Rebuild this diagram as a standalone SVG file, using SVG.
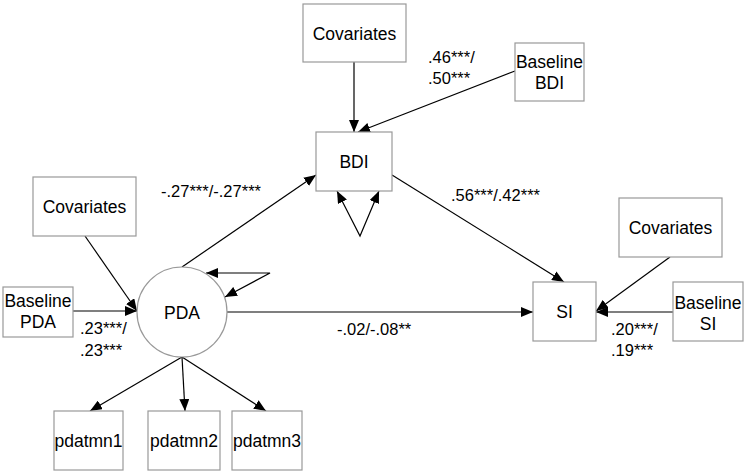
<svg xmlns="http://www.w3.org/2000/svg" width="747" height="475" viewBox="0 0 747 475">
<style>
.box{fill:#fff;stroke:#999;stroke-width:1.2}
.t{font-family:"Liberation Sans",Arial,sans-serif;font-size:17.5px;fill:#000;text-anchor:middle}
.l{font-family:"Liberation Sans",Arial,sans-serif;font-size:16.5px;fill:#000}
.c{stroke:#000;stroke-width:1.2;fill:none}
</style>
<defs>
<marker id="a" viewBox="0 0 12 10" refX="12" refY="5" markerWidth="12" markerHeight="10" markerUnits="userSpaceOnUse" orient="auto-start-reverse">
<path d="M0,0 L12,5 L0,10 z" fill="#000"/>
</marker>
</defs>
<rect width="747" height="475" fill="#fff"/>
<g id="connectors">
<line class="c" x1="354" y1="62" x2="354" y2="132" marker-end="url(#a)"/>
<line class="c" x1="515" y1="71" x2="358" y2="132" marker-end="url(#a)"/>
<line class="c" x1="182" y1="267" x2="316" y2="175" marker-end="url(#a)"/>
<line class="c" x1="392" y1="175" x2="564" y2="282" marker-end="url(#a)"/>
<polyline class="c" points="337,191 360,236 379,191" marker-start="url(#a)" marker-end="url(#a)"/>
<line class="c" x1="85" y1="236" x2="137" y2="311" marker-end="url(#a)"/>
<line class="c" x1="73" y1="311" x2="137" y2="311" marker-end="url(#a)"/>
<polyline class="c" points="206,273 270,273 225,297" marker-start="url(#a)" marker-end="url(#a)"/>
<line class="c" x1="227" y1="312" x2="533" y2="312" marker-end="url(#a)"/>
<line class="c" x1="670" y1="257" x2="596" y2="311" marker-end="url(#a)"/>
<line class="c" x1="673" y1="312" x2="596" y2="312" marker-end="url(#a)"/>
<line class="c" x1="182" y1="357" x2="90" y2="411" marker-end="url(#a)"/>
<line class="c" x1="182" y1="357" x2="185" y2="411" marker-end="url(#a)"/>
<line class="c" x1="182" y1="357" x2="266" y2="411" marker-end="url(#a)"/>
</g>
<g id="labels">
<text class="l" x="428" y="63">.46***/</text>
<text class="l" x="428" y="84">.50***</text>
<text class="l" x="161" y="197">-.27***/-.27***</text>
<text class="l" x="451" y="201">.56***/.42***</text>
<text class="l" x="80" y="334">.23***/</text>
<text class="l" x="80" y="356">.23***</text>
<text class="l" x="337" y="335">-.02/-.08**</text>
<text class="l" x="611" y="335">.20***/</text>
<text class="l" x="611" y="356">.19***</text>
</g>
<g id="cov-bdi"><rect class="box" x="303" y="4" width="103" height="58"/><text class="t" x="354.5" y="40">Covariates</text></g>
<g id="base-bdi"><rect class="box" x="515" y="43" width="69" height="58"/><text class="t" x="549.5" y="68">Baseline</text><text class="t" x="549.5" y="89">BDI</text></g>
<g id="bdi"><rect class="box" x="316" y="132" width="76" height="59"/><text class="t" x="354" y="168">BDI</text></g>
<g id="cov-pda"><rect class="box" x="33" y="177" width="103" height="59"/><text class="t" x="84.5" y="213">Covariates</text></g>
<g id="base-pda"><rect class="box" x="3" y="287" width="70" height="50"/><text class="t" x="38" y="307">Baseline</text><text class="t" x="38" y="328">PDA</text></g>
<g id="pda"><circle cx="182" cy="312" r="45" fill="#fff" stroke="#999" stroke-width="1.2"/><text class="t" x="182" y="319">PDA</text></g>
<g id="si"><rect class="box" x="533" y="282" width="63" height="59"/><text class="t" x="564.5" y="318">SI</text></g>
<g id="cov-si"><rect class="box" x="619" y="198" width="103" height="59"/><text class="t" x="670.5" y="234">Covariates</text></g>
<g id="base-si"><rect class="box" x="673" y="282" width="70" height="59"/><text class="t" x="708" y="309">Baseline</text><text class="t" x="708" y="330">SI</text></g>
<g id="pdatmn1"><rect class="box" x="54" y="411" width="69" height="59"/><text class="t" x="88.5" y="447">pdatmn1</text></g>
<g id="pdatmn2"><rect class="box" x="148" y="411" width="72" height="59"/><text class="t" x="184" y="447">pdatmn2</text></g>
<g id="pdatmn3"><rect class="box" x="232" y="411" width="70" height="59"/><text class="t" x="267" y="447">pdatmn3</text></g>
</svg>
